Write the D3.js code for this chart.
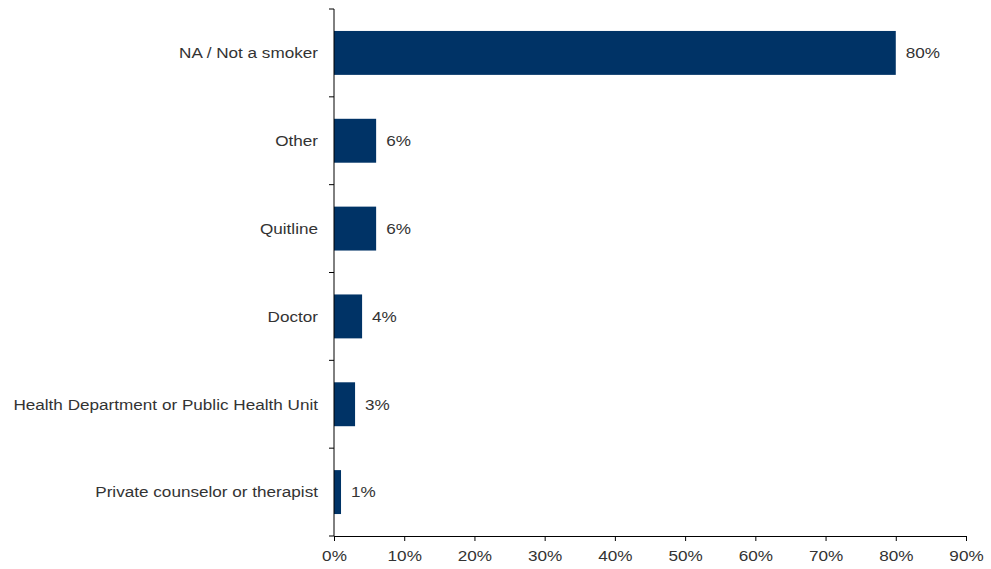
<!DOCTYPE html>
<html><head><meta charset="utf-8">
<script src="https://cdn.jsdelivr.net/npm/d3@7"></script>
<style>body{margin:0;background:#fff}text{font-family:"Liberation Sans",Arial,sans-serif}</style>
</head><body><svg id="c" width="991" height="569"></svg>
<script>
const categories = ["NA / Not a smoker","Other","Quitline","Doctor","Health Department or Public Health Unit","Private counselor or therapist"];
const values = [80,6,6,4,3,1];
const valueLabels = ["80%","6%","6%","4%","3%","1%"];
const xTicks = [0,10,20,30,40,50,60,70,80,90];

const svg = d3.select("#c");
const m = {l:334, t:9, r:25, b:33};
const W = 991, H = 569;
const FS = 15.3, SX = 1.12, TC = "#333";
const x = d3.scaleLinear().domain([0,90]).range([m.l, W - m.r]);
const y = d3.scaleBand().domain(categories).range([m.t, H - m.b]).paddingInner(0.5).paddingOuter(0.25);
const col = "#003366";

svg.selectAll("rect.bar").data(values).join("rect")
  .attr("x", x(0)).attr("y",(d,i)=>y(categories[i]))
  .attr("width", d=>x(d)-x(0)).attr("height", y.bandwidth())
  .attr("fill", col);

svg.selectAll("text.val").data(values).join("text")
  .attr("transform",(d,i)=>`translate(${x(d)+10},${y(categories[i])+y.bandwidth()/2}) scale(${SX},1)`)
  .attr("dy","0.35em").attr("font-size",FS).attr("fill",TC)
  .text((d,i)=>valueLabels[i]);

// y axis
const yb = m.t, ye = H - m.b;
const step = (ye - yb)/categories.length;
const ya = svg.append("g");
ya.append("line").attr("x1",m.l).attr("x2",m.l).attr("y1",yb).attr("y2",ye).attr("stroke","#000");
d3.range(categories.length+1).forEach(i=>{
  ya.append("line").attr("x1",m.l-5).attr("x2",m.l).attr("y1",yb+i*step).attr("y2",yb+i*step).attr("stroke","#000");
});
categories.forEach(c=>{
  ya.append("text").attr("transform",`translate(${m.l-16},${y(c)+y.bandwidth()/2}) scale(${SX},1)`).attr("dy","0.35em")
    .attr("text-anchor","end").attr("font-size",FS).attr("fill",TC).text(c);
});

// x axis
const xa = svg.append("g").attr("transform",`translate(0,${ye})`)
  .call(d3.axisBottom(x).tickValues(xTicks).tickFormat(d=>d+"%").tickSize(5).tickSizeOuter(0));
xa.select(".domain").attr("stroke","#000");
xa.selectAll(".tick line").attr("stroke","#000");
xa.selectAll(".tick text").attr("font-size",FS).attr("fill",TC)
  .attr("font-family","Liberation Sans, Arial, sans-serif")
  .attr("y",0).attr("dy",0)
  .attr("transform",`translate(0,25) scale(${SX},1)`);
</script></body></html>
